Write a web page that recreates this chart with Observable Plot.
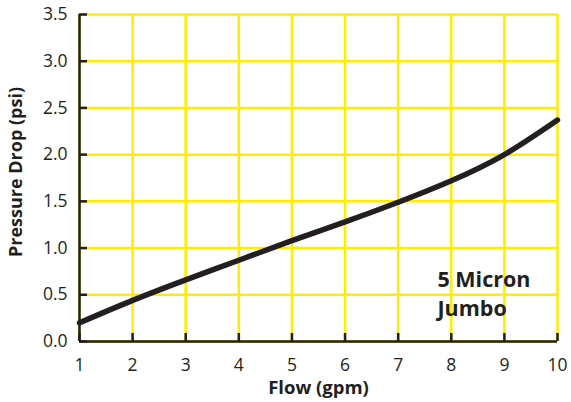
<!DOCTYPE html>
<html>
<head>
<meta charset="utf-8">
<script src="https://cdn.jsdelivr.net/npm/d3@7"></script>
<script src="https://cdn.jsdelivr.net/npm/@observablehq/plot@0.6"></script>
<style>
  html, body { margin: 0; padding: 0; background: #fff; }
  #chart svg { display: block; }
</style>
</head>
<body>
<div id="chart"></div>
<script>
const flow = [1, 2, 3, 4, 5, 6, 7, 8, 9, 10];
const pressureDrop = [0.20, 0.44, 0.66, 0.87, 1.08, 1.28, 1.49, 1.72, 2.00, 2.37];
const xTicks = [1, 2, 3, 4, 5, 6, 7, 8, 9, 10];
const yTicks = [0, 0.5, 1, 1.5, 2, 2.5, 3, 3.5];
const labelLines = ["5 Micron", "Jumbo"];
const labelX = 7.74;
const labelTopY = 0.81;

const data = flow.map((f, i) => ({flow: f, dp: pressureDrop[i]}));
const labels = [{text: labelLines.join("\n"), x: labelX, y: labelTopY}];

const yellow = "#FFEC00";
const ink = "#231f20";
const font = "'Open Sans', sans-serif";

const chart = Plot.plot({
  width: 571,
  height: 402,
  marginLeft: 79,
  marginRight: 14,
  marginTop: 14,
  marginBottom: 61,
  style: {fontFamily: font, background: "#fff", color: ink},
  x: {domain: [1, 10]},
  y: {domain: [0, 3.5]},
  marks: [
    Plot.gridX(xTicks, {stroke: yellow, strokeOpacity: 1, strokeWidth: 2.5}),
    Plot.gridY(yTicks, {stroke: yellow, strokeOpacity: 1, strokeWidth: 2.5}),
    Plot.axisX(xTicks, {tickSize: -8, stroke: ink, strokeWidth: 2.5, tickPadding: 25, fontSize: 17.5, tickFormat: d => String(d), label: null}),
    Plot.axisY(yTicks, {tickSize: -8, stroke: ink, strokeWidth: 2.5, tickPadding: 20, fontSize: 17.5, tickFormat: d => d.toFixed(1), label: null}),
    Plot.ruleX([1], {stroke: ink, strokeWidth: 2.5}),
    Plot.ruleY([0], {stroke: ink, strokeWidth: 2.5}),
    Plot.line(data, {x: "flow", y: "dp", curve: "natural", stroke: ink, strokeWidth: 5.5}),
    Plot.text(labels, {x: "x", y: "y", text: "text", textAnchor: "start", lineAnchor: "top", lineHeight: 1.37, fontSize: 21.5, fontWeight: "bold", fill: ink}),
    Plot.text(["Flow (gpm)"], {frameAnchor: "bottom", dy: 52, text: d => d, textAnchor: "middle", fontSize: 18.5, fontWeight: "bold", fill: ink}),
    Plot.text(["Pressure Drop (psi)"], {frameAnchor: "left", dx: -63, dy: -6, rotate: -90, textAnchor: "middle", text: d => d, fontSize: 18, fontWeight: "bold", fill: ink})
  ]
});
document.getElementById("chart").appendChild(chart);
</script>
</body>
</html>
